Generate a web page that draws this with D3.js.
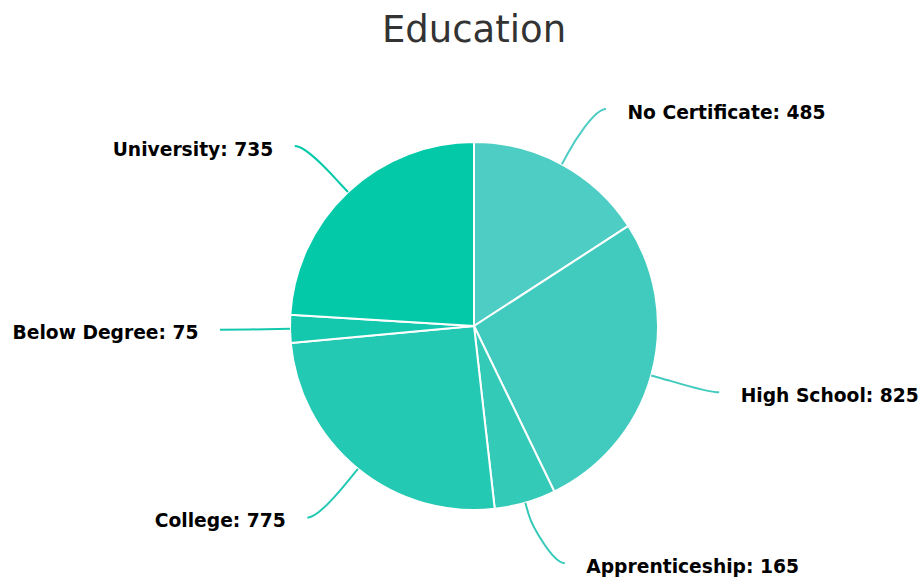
<!DOCTYPE html>
<html>
<head>
<meta charset="utf-8">
<script src="https://cdn.jsdelivr.net/npm/d3@7/dist/d3.min.js"></script>
<style>
  html, body { margin: 0; padding: 0; background: #ffffff; }
  svg { display: block; }
</style>
</head>
<body>
<div id="chart"></div>
<script>
// Education levels and head counts
const categories = ["No Certificate", "High School", "Apprenticeship", "College", "Below Degree", "University"];
const counts = [485, 825, 165, 775, 75, 735];
const titleText = "Education";

// Slice colours, light teal to deep green-teal
const palette = ["#4ecdc4", "#40cbbe", "#33cab8", "#24c9b3", "#14c8ae", "#03c9a9"];

const W = 921, H = 578;
const cx = 474, cy = 326, radius = 184;
const labelRadiusY = 247;    // vertical placement of connector ends
const labelRadiusX = 254;    // horizontal placement of connector ends
const labelGap = 21.5;       // space between connector end and label text

const svg = d3.select("#chart").append("svg")
  .attr("width", W).attr("height", H);

svg.append("text")
  .attr("x", 474)
  .attr("y", 42)
  .attr("text-anchor", "middle")
  .attr("font-family", "DejaVu Sans, sans-serif")
  .attr("font-size", 37)
  .attr("fill", "#333333")
  .text(titleText);

const data = categories.map((c, i) => ({ name: c, value: counts[i], color: palette[i] }));

const pie = d3.pie().value(d => d.value).sort(null);
const arcs = pie(data);
const arc = d3.arc().innerRadius(0).outerRadius(radius);

const g = svg.append("g").attr("transform", `translate(${cx},${cy})`);

g.selectAll("path.slice")
  .data(arcs)
  .join("path")
  .attr("class", "slice")
  .attr("d", arc)
  .attr("fill", d => d.data.color)
  .attr("stroke", "#ffffff")
  .attr("stroke-width", 2)
  .attr("stroke-linejoin", "round");

// Label placement outside the pie
function layout(d) {
  const a = (d.startAngle + d.endAngle) / 2;
  const sx = Math.sin(a), sy = -Math.cos(a);
  const right = sx >= 0;
  const y = sy * labelRadiusY;
  const x = (right ? 1 : -1) * Math.sqrt(Math.max(0, labelRadiusX * labelRadiusX - y * y));
  const touch = [sx * radius, sy * radius];
  const brk = [sx * (radius + 12), sy * (radius + 12)];
  return { a, right, end: [x, y], touch, brk };
}

const lay = arcs.map(layout);

// Soft curved connectors
g.selectAll("path.connector")
  .data(arcs)
  .join("path")
  .attr("class", "connector")
  .attr("fill", "none")
  .attr("stroke", d => d.data.color)
  .attr("stroke-width", 2)
  .attr("d", (d, i) => {
    const L = lay[i];
    const p = d3.path();
    p.moveTo(L.end[0], L.end[1]);
    p.bezierCurveTo(
      L.end[0] + (L.right ? -12 : 12), L.end[1],
      2 * L.brk[0] - L.touch[0], 2 * L.brk[1] - L.touch[1],
      L.brk[0], L.brk[1]);
    p.lineTo(L.touch[0], L.touch[1]);
    return p.toString();
  });

g.selectAll("text.label")
  .data(arcs)
  .join("text")
  .attr("class", "label")
  .attr("x", (d, i) => lay[i].end[0] + (lay[i].right ? labelGap : -labelGap))
  .attr("y", (d, i) => lay[i].end[1] + 3)
  .attr("dy", "0.35em")
  .attr("text-anchor", (d, i) => lay[i].right ? "start" : "end")
  .attr("font-family", "DejaVu Sans, sans-serif")
  .attr("font-weight", "bold")
  .attr("font-size", 18.7)
  .attr("fill", "#000000")
  .text(d => `${d.data.name}: ${d.data.value}`);
</script>
</body>
</html>
